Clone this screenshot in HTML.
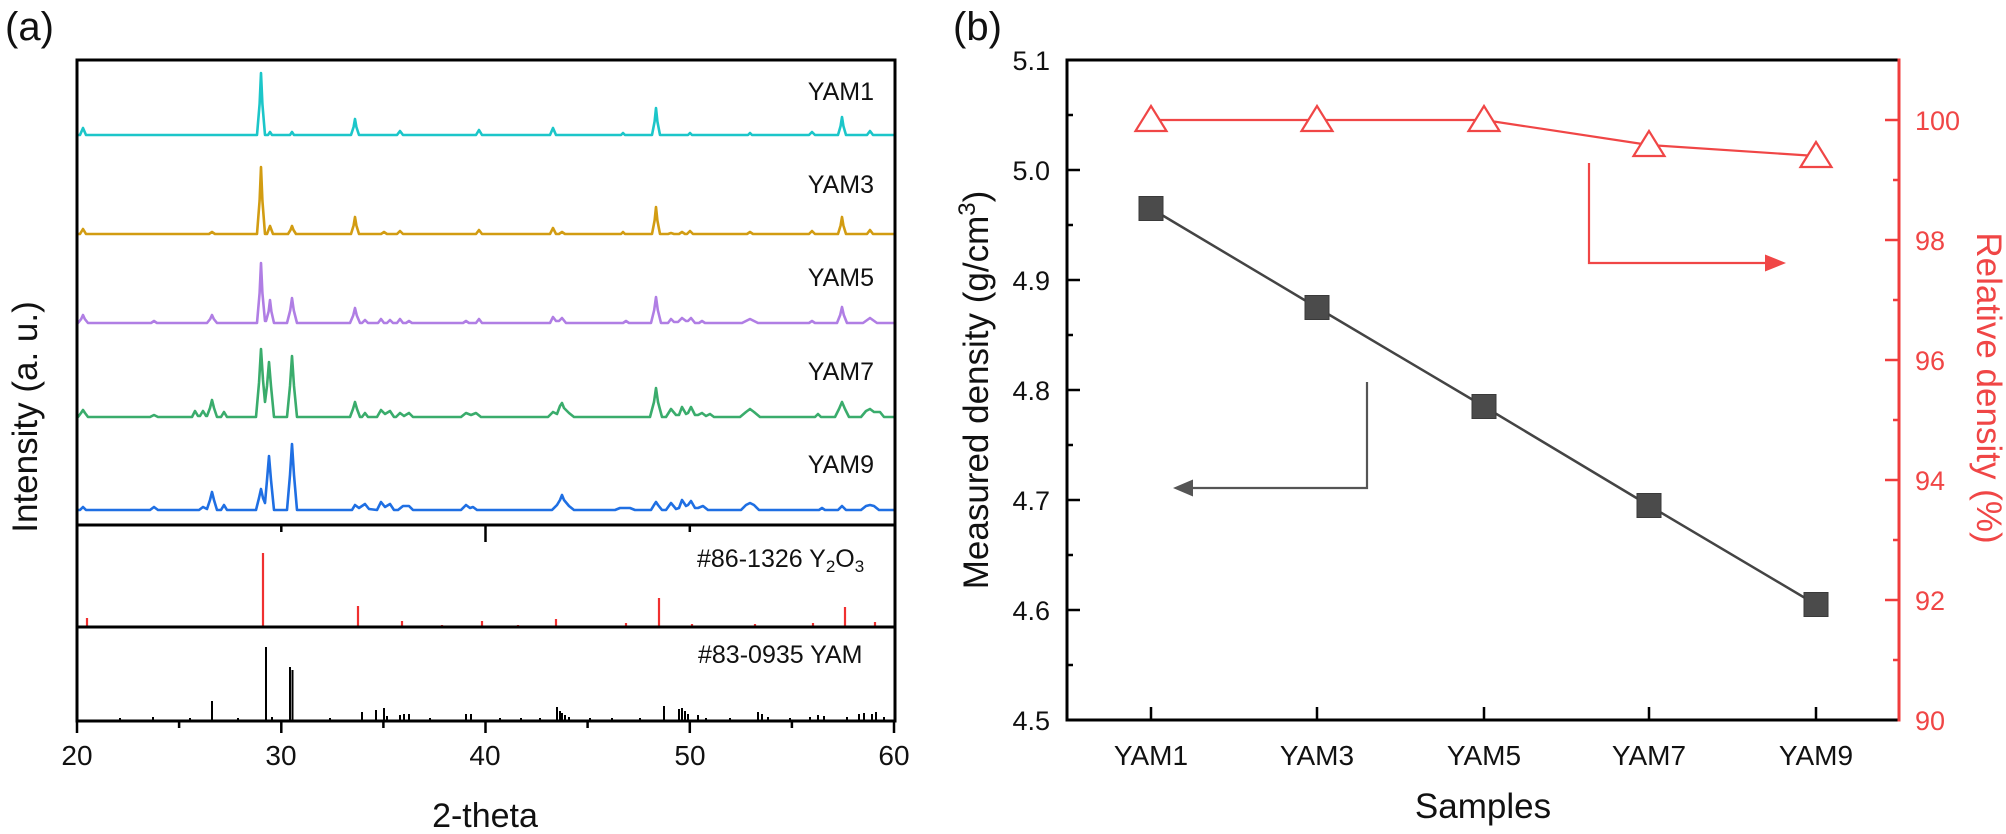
<!DOCTYPE html>
<html>
<head>
<meta charset="utf-8">
<style>
  html,body{margin:0;padding:0;background:#fff;}
  svg{display:block;}
  text{font-family:"Liberation Sans", Arial, sans-serif;}
</style>
</head>
<body>
<svg width="2006" height="834" viewBox="0 0 2006 834" xmlns="http://www.w3.org/2000/svg">
<rect x="0" y="0" width="2006" height="834" fill="#fff"/>

<!-- ============ PANEL (a) ============ -->
<text x="5" y="40" font-size="40" fill="#111">(a)</text>

<!-- spectra -->
<g fill="none" stroke-width="2.6" stroke-linejoin="round" stroke-linecap="round">
<!-- YAM1 cyan -->
<path stroke="#1cc6c9" d="M77,135 L80,135 L83,128 L86,135 L257,135 L259.6,104 L261,73 L262.4,104 L265,135 L268,135 L270,132 L272,135 L290,135 L292,132 L294,135 L351,135 L353.6,127 L355,119 L356.4,127 L359,135 L397,135 L400,131 L403,135 L476,135 L479,130 L482,135 L550,135 L553,128 L556,135 L621,135 L623,133 L625,135 L652,135 L654.6,121.5 L656,108 L657.4,121.5 L660,135 L688,135 L690,133 L692,135 L748,135 L750,133 L752,135 L809,135 L812,132 L815,135 L838,135 L840.6,126 L842,117 L843.4,126 L846,135 L867,135 L870,131 L873,135 L894,135"/>
<!-- YAM3 gold -->
<path stroke="#d29c12" d="M77,234 L80,234 L83,229 L86,234 L209,234 L212,232 L215,234 L257,234 L259.6,200.5 L261,167 L262.4,200.5 L265,234 L267,234 L270,226 L273,234 L288,234 L290.5,230 L292,226 L293.5,230 L296,234 L351,234 L353.6,225.5 L355,217 L356.4,225.5 L359,234 L381,234 L384,232 L387,234 L397,234 L400,231 L403,234 L476,234 L479,230 L482,234 L550,234 L553,228 L556,234 L559,234 L562,232 L565,234 L621,234 L623,232 L625,234 L652,234 L654.6,220.5 L656,207 L657.4,220.5 L660,234 L668,234 L671,233 L674,234 L679,234 L682,232 L685,234 L687,234 L690,231 L693,234 L747,234 L750,232 L753,234 L809,234 L812,231 L815,234 L838,234 L840.6,225.5 L842,217 L843.4,225.5 L846,234 L867,234 L870,230 L873,234 L894,234"/>
<!-- YAM5 purple -->
<path stroke="#b07ee4" d="M77,323 L78,323 L81.2,319 L83,315 L84.8,319 L88,323 L151,323 L154,321 L157,323 L207,323 L210.2,319 L212,315 L213.8,319 L217,323 L257,323 L259.6,293 L261,263 L262.4,293 L265,321 L266,321 L268.6,311.5 L270,300 L271.4,311.5 L274,323 L287,323 L290.2,310.5 L292,298 L293.8,310.5 L297,323 L350,323 L353.2,315.5 L355,308 L356.8,315.5 L360,323 L362,323 L365,320 L368,323 L378,323 L381,319 L384,323 L387,323 L390,320 L393,323 L397,323 L400,319 L403,323 L406,323 L409,321 L412,323 L463,323 L466,321 L469,323 L476,323 L479,319 L482,323 L550,323 L553,317 L556,321 L559,321 L562,318 L566,323 L623,323 L626,321 L629,323 L651,323 L654.2,310 L656,297 L657.8,310 L661,323 L668,323 L671,319 L674,322 L678,322 L682,318 L686,321 L688,321 L691,318 L695,323 L699,323 L702,321 L705,323 L742,323 L750,319 L758,323 L809,323 L812,321 L815,323 L837,323 L840.2,315 L842,307 L843.8,315 L847,323 L863,323 L870,318 L877,323 L894,323"/>
<!-- YAM7 green -->
<path stroke="#3aac6c" d="M77,417 L78,417 L81,413 L83,410 L85,413 L88,417 L150,417 L154,415 L158,417 L192,417 L195,411 L198,416 L200,416 L203,411 L206,416 L207,416 L210,408 L212,400 L214,408 L217,417 L221,417 L224,412 L227,417 L256,417 L259,383 L261,349 L263,380 L265,402 L267,386 L269,362 L271,386 L274,417 L287,417 L290,386 L292,356 L294,386 L297,417 L350,417 L353,409 L355,402 L357,409 L360,417 L362,417 L365,413 L368,417 L377,417 L381,410 L385,414 L390,411 L394,417 L396,417 L400,413 L404,416 L409,413 L413,417 L461,417 L466,413 L471,415 L476,413 L481,417 L548,417 L553,412 L557,414 L560,406 L562,403 L564,408 L569,413 L574,417 L650,417 L654,402 L656,388 L658,402 L662,417 L666,417 L671,409 L676,415 L679,415 L682,407 L686,414 L688,413 L691,407 L695,415 L698,415 L702,413 L706,416 L710,414 L714,417 L740,417 L746,412 L750,409 L754,412 L760,417 L815,417 L818,414 L821,417 L835,417 L839,409 L842,402 L845,409 L849,417 L861,417 L866,411 L870,409 L874,412 L880,412 L884,417 L894,417"/>
<!-- YAM9 blue -->
<path stroke="#1f6fe3" d="M77,510 L80,510 L83,507 L86,510 L150,510 L154,507 L158,510 L199,510 L203,507 L207,509 L210,500 L212,492 L214,500 L217,510 L221,510 L224,505 L227,510 L256,510 L259,498 L261,489 L263,498 L265,503 L267,480 L269,456 L271,480 L274,510 L287,510 L290,475 L292,444 L294,475 L297,510 L352,510 L355,505 L359,508 L365,504 L369,509 L377,510 L381,502 L385,507 L390,504 L394,510 L398,510 L403,506 L409,506 L413,510 L461,510 L466,505 L470,508 L473,507 L477,510 L552,510 L557,505 L560,500 L562,495 L564,500 L569,506 L574,510 L615,510 L620,508 L630,508 L635,510 L651,510 L654,505 L656,502 L658,505 L662,510 L666,510 L671,503 L676,509 L679,508 L682,500 L686,506 L688,505 L691,501 L695,508 L698,508 L703,506 L708,510 L741,510 L746,505 L750,503 L754,505 L759,510 L819,510 L822,508 L825,510 L838,510 L842,506 L846,510 L861,510 L866,506 L870,505 L874,506 L879,510 L894,510"/>
</g>

<!-- Y2O3 reference lines -->
<path stroke="#f03030" stroke-width="2.2" fill="none" d="M87,626 V618 M263,626 V553 M358,626 V606 M402,626 V621 M442,626 V625 M482,626 V621 M518,626 V625 M556,626 V619 M626,626 V623 M659,626 V598 M692,626 V624 M755,626 V624 M813,626 V623 M845,626 V607 M875,626 V622"/>

<!-- YAM reference lines -->
<path stroke="#000" stroke-width="2" fill="none" d="M153,720 V717 M212,720 V701 M266,720 V647 M272,720 V717 M290,720 V667 M292.5,720 V670 M362,720 V712 M376,720 V710 M384,720 V708 M387,720 V716 M400,720 V715 M404,720 V714 M409,720 V714 M466,720 V714 M471,720 V714 M521,720 V718 M557,720 V707 M560,720 V711 M562,720 V713 M565,720 V715 M569,720 V717 M612,720 V718 M664,720 V706 M679,720 V709 M682,720 V708 M685,720 V711 M688,720 V714 M698,720 V715 M706,720 V718 M758,720 V712 M762,720 V714 M768,720 V717 M810,720 V717 M818,720 V715 M824,720 V716 M847,720 V717 M859,720 V714 M864,720 V713 M872,720 V714 M876,720 V712 M884,720 V717 M120,720 V718 M190,720 V718 M238,720 V718 M330,720 V718 M430,720 V718 M500,720 V718 M540,720 V718 M590,720 V718 M640,720 V718 M730,720 V718 M790,720 V718"/>

<!-- frame (a) -->
<g stroke="#000" stroke-width="3" fill="none" stroke-linecap="square">
  <path d="M77,60 H895 M77,60 V721 M895,60 V721 M77,525 H895 M77,627 H895 M77,721 H895"/>
</g>
<g stroke="#000" stroke-width="2.5" fill="none">
  <path d="M281.3,525 V532 M485.5,525 V542 M689.8,525 V532"/>
  <path d="M77,721 V733 M281.3,721 V733 M485.5,721 V733 M689.8,721 V733 M894,721 V733 M179.1,721 V728 M383.4,721 V728 M587.6,721 V728 M791.9,721 V728"/>
</g>

<!-- labels (a) -->
<g font-size="25" fill="#111" text-anchor="end">
  <text x="874" y="100">YAM1</text>
  <text x="874" y="193">YAM3</text>
  <text x="874" y="286">YAM5</text>
  <text x="874" y="380">YAM7</text>
  <text x="874" y="473">YAM9</text>
</g>
<text x="697" y="567" font-size="25" fill="#111">#86-1326 Y<tspan font-size="17" dy="5">2</tspan><tspan font-size="25" dy="-5">O</tspan><tspan font-size="17" dy="5">3</tspan></text>
<text x="698" y="663" font-size="25" fill="#111">#83-0935 YAM</text>

<g font-size="28" fill="#111" text-anchor="middle">
  <text x="77" y="765">20</text>
  <text x="281" y="765">30</text>
  <text x="485" y="765">40</text>
  <text x="690" y="765">50</text>
  <text x="894" y="765">60</text>
</g>
<text x="485" y="827" font-size="34" fill="#111" text-anchor="middle">2-theta</text>
<text x="37" y="417" font-size="35" fill="#111" text-anchor="middle" transform="rotate(-90 37 417)">Intensity (a. u.)</text>

<!-- ============ PANEL (b) ============ -->
<text x="953" y="40" font-size="40" fill="#111">(b)</text>

<!-- frame (b) -->
<g stroke-width="3" fill="none" stroke-linecap="square">
  <path stroke="#000" d="M1067,60 H1899 M1067,60 V720 M1067,720 H1899"/>
  <path stroke="#f03c3c" d="M1899,60 V720"/>
</g>
<!-- left ticks -->
<g stroke="#000" stroke-width="2.5" fill="none">
  <path d="M1067,60 H1080 M1067,170 H1080 M1067,280 H1080 M1067,390 H1080 M1067,500 H1080 M1067,610 H1080 M1067,115 H1073 M1067,225 H1073 M1067,335 H1073 M1067,445 H1073 M1067,555 H1073 M1067,665 H1073"/>
  <path d="M1151,720 V707 M1317,720 V707 M1484,720 V707 M1649,720 V707 M1816,720 V707"/>
</g>
<!-- right ticks -->
<g stroke="#f03c3c" stroke-width="2.5" fill="none">
  <path d="M1899,120 H1885 M1899,240 H1885 M1899,360 H1885 M1899,480 H1885 M1899,600 H1885 M1899,180 H1893 M1899,300 H1893 M1899,420 H1893 M1899,540 H1893 M1899,660 H1893"/>
</g>

<!-- left tick labels -->
<g font-size="27" fill="#111" text-anchor="end">
  <text x="1050" y="70">5.1</text>
  <text x="1050" y="180">5.0</text>
  <text x="1050" y="290">4.9</text>
  <text x="1050" y="400">4.8</text>
  <text x="1050" y="510">4.7</text>
  <text x="1050" y="620">4.6</text>
  <text x="1050" y="730">4.5</text>
</g>
<!-- right tick labels -->
<g font-size="27" fill="#f04646">
  <text x="1915" y="130">100</text>
  <text x="1915" y="250">98</text>
  <text x="1915" y="370">96</text>
  <text x="1915" y="490">94</text>
  <text x="1915" y="610">92</text>
  <text x="1915" y="730">90</text>
</g>
<!-- category labels -->
<g font-size="28" fill="#111" text-anchor="middle">
  <text x="1151" y="765">YAM1</text>
  <text x="1317" y="765">YAM3</text>
  <text x="1484" y="765">YAM5</text>
  <text x="1649" y="765">YAM7</text>
  <text x="1816" y="765">YAM9</text>
</g>
<text x="1483" y="818" font-size="35" fill="#111" text-anchor="middle">Samples</text>
<text x="988" y="390" font-size="35" fill="#111" text-anchor="middle" transform="rotate(-90 988 390)">Measured density (g/cm<tspan font-size="24" dy="-13">3</tspan><tspan font-size="35" dy="13">)</tspan></text>
<text x="1977" y="388" font-size="35" fill="#f04646" text-anchor="middle" transform="rotate(90 1977 388)">Relative density (%)</text>

<!-- data lines -->
<polyline fill="none" stroke="#444" stroke-width="2.5" points="1151,208.5 1317,307.5 1484,406.5 1649,505.5 1816,604.5"/>
<polyline fill="none" stroke="#f04646" stroke-width="2.2" points="1151,120 1317,120 1484,120 1649,145 1816,156"/>

<!-- squares -->
<g fill="#4b4b4b" stroke="#3a3a3a" stroke-width="1">
  <rect x="1139" y="196.5" width="24" height="24"/>
  <rect x="1305" y="295.5" width="24" height="24"/>
  <rect x="1472" y="394.5" width="24" height="24"/>
  <rect x="1637" y="493.5" width="24" height="24"/>
  <rect x="1804" y="592.5" width="24" height="24"/>
</g>
<!-- triangles -->
<g fill="#fff" stroke="#f04646" stroke-width="2.2" stroke-linejoin="miter">
  <polygon points="1151,106 1135.5,131 1166.5,131"/>
  <polygon points="1317,106 1301.5,131 1332.5,131"/>
  <polygon points="1484,106 1468.5,131 1499.5,131"/>
  <polygon points="1649,131 1633.5,156 1664.5,156"/>
  <polygon points="1816,142 1800.5,167 1831.5,167"/>
</g>

<!-- arrows -->
<polyline fill="none" stroke="#f04646" stroke-width="2.2" points="1589,163 1589,263 1767,263"/>
<polygon fill="#f04646" points="1765,254.5 1786,263 1765,271.5"/>
<polyline fill="none" stroke="#555" stroke-width="2.2" points="1367,382 1367,488 1192,488"/>
<polygon fill="#555" points="1193,479.5 1173,488 1193,496.5"/>

</svg>
</body>
</html>
